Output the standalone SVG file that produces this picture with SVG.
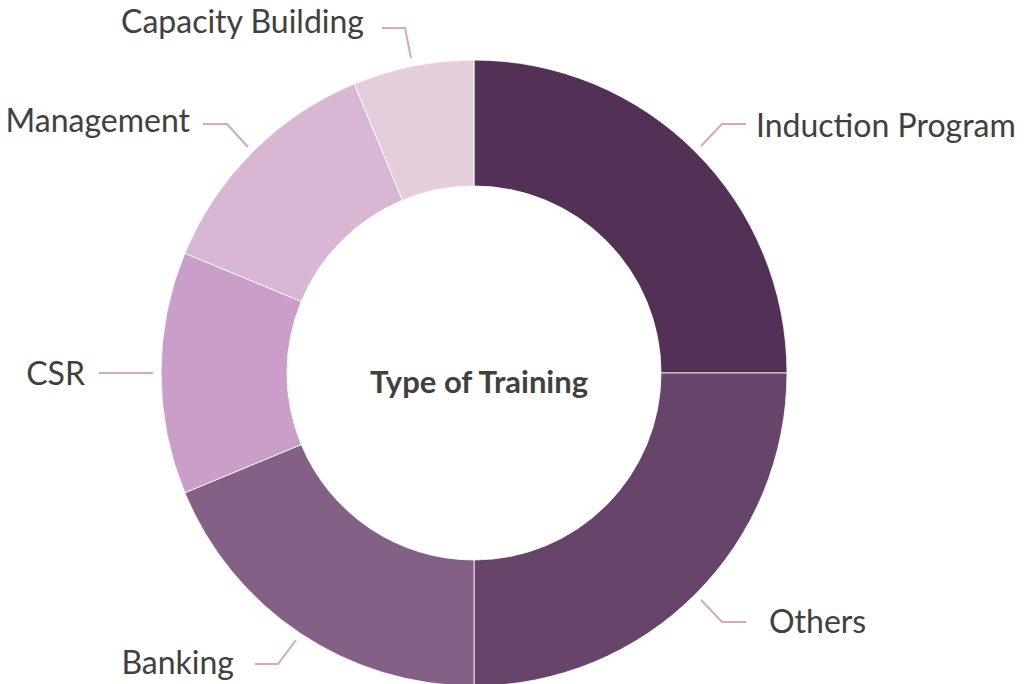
<svg xmlns="http://www.w3.org/2000/svg" width="1031" height="684" viewBox="0 0 1031 684">
<style>
.slice{stroke:#ffffff;stroke-width:0.8;stroke-linejoin:round}
.lbl{font-family:Lato,"Liberation Sans",sans-serif;font-size:32px;fill:#404040}
.title{font-family:Lato,"Liberation Sans",sans-serif;font-size:31px;font-weight:bold;fill:#404040}
.lead{fill:none;stroke:#d8a8b8;stroke-width:2}
</style>
<rect width="1031" height="684" fill="#ffffff"/>
<g id="slice-induction"><path class="slice" fill="#533157" d="M474,60 A313,313 0 0 1 787,373 L661,373 A187,187 0 0 0 474,186 Z"/></g>
<g id="slice-others"><path class="slice" fill="#674469" d="M787,373 A313,313 0 0 1 474,686 L474,560 A187,187 0 0 0 661,373 Z"/></g>
<g id="slice-banking"><path class="slice" fill="#846087" d="M474,686 A313,313 0 0 1 184.83,492.78 L301.23,444.56 A187,187 0 0 0 474,560 Z"/></g>
<g id="slice-csr"><path class="slice" fill="#c99fca" d="M184.83,492.78 A313,313 0 0 1 184.83,253.22 L301.23,301.44 A187,187 0 0 0 301.23,444.56 Z"/></g>
<g id="slice-management"><path class="slice" fill="#d9b6d3" d="M184.83,253.22 A313,313 0 0 1 354.22,83.83 L402.44,200.23 A187,187 0 0 0 301.23,301.44 Z"/></g>
<g id="slice-capacity"><path class="slice" fill="#e5cedb" d="M354.22,83.83 A313,313 0 0 1 474,60 L474,186 A187,187 0 0 0 402.44,200.23 Z"/></g>
<g id="connectors">
<polyline class="lead" points="701,146 722,124 746,124"/>
<polyline class="lead" points="701,600 722,622 746,622"/>
<polyline class="lead" points="296,640 278,664 255,664"/>
<polyline class="lead" points="153,373 99,373"/>
<polyline class="lead" points="248,147 227,124 203,124"/>
<polyline class="lead" points="411,58 405,28 382,28"/>
</g>
<g id="label-induction"><text class="lbl" x="756" y="137">Induction Program</text></g>
<g id="label-others"><text class="lbl" x="769" y="633">Others</text></g>
<g id="label-banking"><text class="lbl" x="234" y="674" text-anchor="end">Banking</text></g>
<g id="label-csr"><text class="lbl" x="85" y="385" text-anchor="end">CSR</text></g>
<g id="label-management"><text class="lbl" x="190" y="132" text-anchor="end">Management</text></g>
<g id="label-capacity"><text class="lbl" x="364" y="33" text-anchor="end">Capacity Building</text></g>
<g id="title"><text class="title" x="479" y="393" text-anchor="middle">Type of Training</text></g>
</svg>
